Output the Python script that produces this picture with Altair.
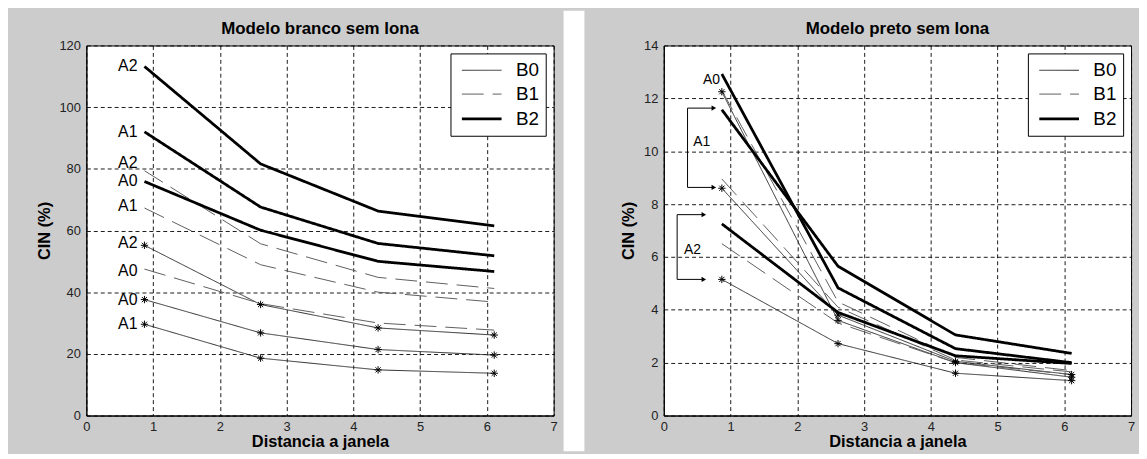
import altair as alt
import pandas as pd

# ---------------- data ----------------
X = [0.87, 2.61, 4.37, 6.11]
SERIES = ["B0", "B1", "B2"]

# Left panel: Modelo branco sem lona
L_B0_A0 = [37.6, 26.8, 21.4, 19.6]
L_B0_A1 = [29.6, 18.6, 14.8, 13.7]
L_B0_A2 = [55.2, 36.0, 28.4, 26.1]
L_B1_A0 = [47.5, 36.3, 30.0, 27.7]
L_B1_A1 = [67.3, 48.9, 40.0, 36.8]
L_B1_A2 = [79.4, 55.7, 44.8, 41.2]
L_B2_A0 = [75.9, 60.1, 50.0, 46.7]
L_B2_A1 = [92.0, 67.6, 55.8, 51.8]
L_B2_A2 = [113.2, 81.6, 66.3, 61.5]

# Right panel: Modelo preto sem lona
R_B0_A0 = [12.25, 3.6, 2.0, 1.45]
R_B0_A1 = [8.6, 3.8, 2.05, 1.55]
R_B0_A2 = [5.15, 2.72, 1.6, 1.32]
R_B1_A0 = [12.3, 4.3, 2.2, 1.7]
R_B1_A1 = [8.95, 4.1, 2.1, 1.65]
R_B1_A2 = [6.5, 3.5, 2.0, 1.55]
R_B2_A0 = [12.92, 4.83, 2.53, 2.0]
R_B2_A1 = [11.57, 5.65, 3.05, 2.35]
R_B2_A2 = [7.25, 3.9, 2.26, 1.97]

# curve labels
L_LAB_TEXT = ["A2", "A1", "A2", "A0", "A1", "A2", "A0", "A0", "A1"]
L_LAB_X = [0.87] * 9
L_LAB_Y = [113.2, 92.0, 81.8, 75.9, 67.9, 55.8, 47.0, 37.3, 29.6]

R_LAB0_TEXT = ["A0"]
R_LAB0_X = [0.87]
R_LAB0_Y = [12.5]
R_LAB_TEXT = ["A1", "A2"]
R_LAB_X = [0.57, 0.43]
R_LAB_Y = [10.35, 6.28]

# brackets with arrows (right panel)
BR_X = [0.356, 0.356, 0.356, 0.20, 0.20, 0.20]
BR_X2 = [0.356, 0.75, 0.75, 0.20, 0.60, 0.60]
BR_Y = [8.63, 11.63, 8.63, 5.15, 7.6, 5.15]
BR_Y2 = [11.63, 11.63, 8.63, 7.6, 7.6, 5.15]
TIP_X = [0.75, 0.75, 0.60, 0.60]
TIP_Y = [11.63, 8.63, 7.6, 5.15]

X_TICKS = [0, 1, 2, 3, 4, 5, 6, 7]
L_Y_TICKS = [0, 20, 40, 60, 80, 100, 120]
R_Y_TICKS = [0, 2, 4, 6, 8, 10, 12, 14]

TITLES = ["Modelo branco sem lona", "Modelo preto sem lona"]

# ---------------- styling ----------------
W, H = 471, 373
FONT = "Liberation Sans"
BG = "#cccccc"
ASTERISK = "M-1,0L1,0M0,-1L0,1M-0.7,-0.7L0.7,0.7M-0.7,0.7L0.7,-0.7"
LEGEND_LINE = "M-0.65,0L3.35,0"


def series_df(d):
    rows = []
    for (b, a), vals in d.items():
        for x, y in zip(X, vals):
            rows.append({"B": b, "A": a, "x": x, "y": y})
    return pd.DataFrame(rows)


left_df = series_df({
    ("B0", "A0"): L_B0_A0, ("B0", "A1"): L_B0_A1, ("B0", "A2"): L_B0_A2,
    ("B1", "A0"): L_B1_A0, ("B1", "A1"): L_B1_A1, ("B1", "A2"): L_B1_A2,
    ("B2", "A0"): L_B2_A0, ("B2", "A1"): L_B2_A1, ("B2", "A2"): L_B2_A2,
})
right_df = series_df({
    ("B0", "A0"): R_B0_A0, ("B0", "A1"): R_B0_A1, ("B0", "A2"): R_B0_A2,
    ("B1", "A0"): R_B1_A0, ("B1", "A1"): R_B1_A1, ("B1", "A2"): R_B1_A2,
    ("B2", "A0"): R_B2_A0, ("B2", "A1"): R_B2_A1, ("B2", "A2"): R_B2_A2,
})

dummy = pd.DataFrame({"k": [0]})


def panel(df, ymax, yticks, title, ytitle_x, extra):
    xs = alt.Scale(domain=[0, 7], nice=False)
    ys = alt.Scale(domain=[0, ymax], nice=False)
    xaxis = alt.Axis(values=X_TICKS, format="d", grid=True, gridDash=[4, 3], gridColor="black",
                     gridOpacity=1, gridWidth=0.9, domainColor="black", ticks=False,
                     labelFont=FONT, labelFontSize=13, labelColor="#222222",
                     labelPadding=5, labelFlush=False, labelOverlap=False,
                     title="Distancia a janela", titleFont=FONT, titleFontSize=16.5,
                     titleFontWeight="bold", titleColor="black", titleX=W / 2,
                     titleY=31, titleBaseline="alphabetic", titleAlign="center")
    yaxis = alt.Axis(values=yticks, format="d", grid=True, gridDash=[4, 3], gridColor="black",
                     gridOpacity=1, gridWidth=0.9, domainColor="black", ticks=False,
                     labelFont=FONT, labelFontSize=13, labelColor="#222222",
                     labelPadding=6, labelFlush=False, labelOverlap=False,
                     title="CIN (%)", titleFont=FONT, titleFontSize=16.5,
                     titleFontWeight="bold", titleColor="black", titleAngle=270,
                     titleX=ytitle_x, titleY=H / 2, titleBaseline="alphabetic",
                     titleAlign="center")
    leg = dict(title=None, orient="top-right", offset=8, fillColor="white",
               strokeColor="black", padding=6.5, symbolType=LEGEND_LINE, symbolSize=400,
               labelFontSize=19, labelFont=FONT, labelColor="black", labelOffset=36.5,
               rowPadding=3, labelExpr="datum.label + '  '")
    lines = alt.Chart(df).mark_line().encode(
        x=alt.X("x:Q", scale=xs, axis=xaxis),
        y=alt.Y("y:Q", scale=ys, axis=yaxis),
        detail="A:N",
        color=alt.Color("B:O", scale=alt.Scale(type="ordinal", domain=SERIES,
                                               range=["#2e2e2e", "#5e5e5e", "#000000"]),
                        legend=alt.Legend(**leg)),
        strokeDash=alt.StrokeDash("B:O", scale=alt.Scale(type="ordinal", domain=SERIES,
                                                         range=[[1, 0], [22, 9], [1, 0]]),
                                  legend=alt.Legend(**leg)),
        strokeWidth=alt.StrokeWidth("B:O", scale=alt.Scale(type="ordinal", domain=SERIES,
                                                           range=[1, 1, 2.8]),
                                    legend=alt.Legend(**leg)),
    )
    stars = alt.Chart(df).transform_filter(alt.datum.B == "B0").mark_point(
        shape=ASTERISK, size=55, filled=False, color="black", strokeWidth=1, opacity=1
    ).encode(x=alt.X("x:Q", scale=xs), y=alt.Y("y:Q", scale=ys))
    ttl = alt.Chart(dummy).mark_text(
        text=title, font=FONT, fontSize=17, fontWeight="bold", color="black",
        align="center", baseline="alphabetic"
    ).encode(x=alt.value(W / 2), y=alt.value(-12))
    return alt.layer(*extra[0], lines, stars, *extra[1], ttl).properties(width=W, height=H)


xsL = alt.Scale(domain=[0, 7], nice=False)
ysL = alt.Scale(domain=[0, 120], nice=False)
ysR = alt.Scale(domain=[0, 14], nice=False)

# decorative background pieces (panel frame)
left_bg = [
    alt.Chart(dummy).mark_rect(color=BG).encode(
        x=alt.value(-78), x2=alt.value(-70), y=alt.value(0), y2=alt.value(5)),
    alt.Chart(dummy).mark_rect(color="white").encode(
        x=alt.value(W + 10), x2=alt.value(W + 31), y=alt.value(-35), y2=alt.value(H + 36)),
]
left_lab = pd.DataFrame({"t": L_LAB_TEXT, "x": L_LAB_X, "y": L_LAB_Y})
left_fg = [
    alt.Chart(left_lab).mark_text(align="right", baseline="middle", dx=-7, font=FONT,
                                  fontSize=16, color="black").encode(
        x=alt.X("x:Q", scale=xsL), y=alt.Y("y:Q", scale=ysL), text="t:N"),
]

right_bg = [
    alt.Chart(dummy).mark_rect(color=BG).encode(
        x=alt.value(W + 1), x2=alt.value(W + 7), y=alt.value(0), y2=alt.value(5)),
]
br = pd.DataFrame({"x": BR_X, "x2": BR_X2, "y": BR_Y, "y2": BR_Y2})
tips = pd.DataFrame({"x": TIP_X, "y": TIP_Y})
rlab0 = pd.DataFrame({"t": R_LAB0_TEXT, "x": R_LAB0_X, "y": R_LAB0_Y})
rlab = pd.DataFrame({"t": R_LAB_TEXT, "x": R_LAB_X, "y": R_LAB_Y})
right_fg = [
    alt.Chart(br).mark_rule(color="black", strokeWidth=1).encode(
        x=alt.X("x:Q", scale=xsL), x2="x2:Q", y=alt.Y("y:Q", scale=ysR), y2="y2:Q"),
    alt.Chart(tips).mark_point(shape="triangle-right", size=28, filled=True, color="black",
                               opacity=1).encode(
        x=alt.X("x:Q", scale=xsL), y=alt.Y("y:Q", scale=ysR)),
    alt.Chart(rlab0).mark_text(align="right", baseline="bottom", dx=-2, dy=2, font=FONT,
                               fontSize=14, color="black").encode(
        x=alt.X("x:Q", scale=xsL), y=alt.Y("y:Q", scale=ysR), text="t:N"),
    alt.Chart(rlab).mark_text(align="center", baseline="middle", font=FONT,
                              fontSize=14, color="black").encode(
        x=alt.X("x:Q", scale=xsL), y=alt.Y("y:Q", scale=ysR), text="t:N"),
]

left = panel(left_df, 120, L_Y_TICKS, TITLES[0], -36.7, (left_bg, left_fg))
right = panel(right_df, 14, R_Y_TICKS, TITLES[1], -31, (right_bg, right_fg))

chart = alt.hconcat(left, right, spacing=111, bounds="flush").resolve_scale(
    color="independent", strokeDash="independent", strokeWidth="independent",
    x="independent", y="independent"
).properties(background=BG, padding=0).configure_view(
    stroke="black", strokeWidth=1, fill="white"
)

chart.save("out.html", embed_options={"renderer": "svg", "actions": False})
